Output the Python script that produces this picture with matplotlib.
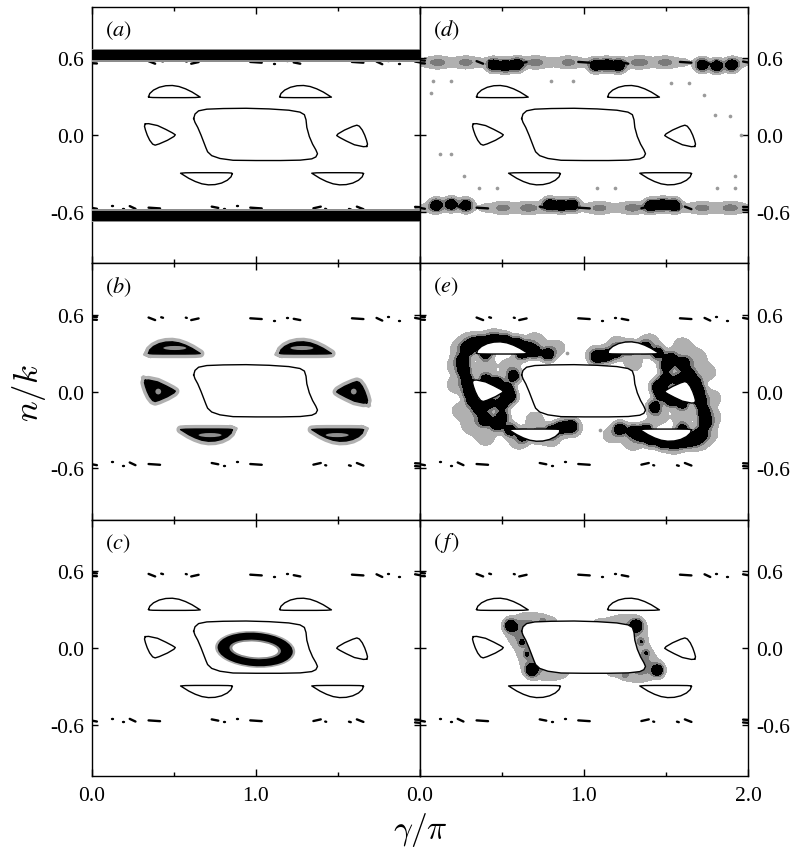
import numpy as np
import matplotlib.pyplot as plt
from matplotlib.patches import Ellipse

plt.rcParams['font.family'] = ['Liberation Serif', 'DejaVu Serif']
plt.rcParams['mathtext.fontset'] = 'cm'

# ---- data (x = gamma/pi, y = n/k) ----
# central regular island
centre_x = [0.62, 0.628, 0.65, 0.70, 0.80, 0.94, 1.08, 1.20, 1.268, 1.295, 1.305, 1.31,
            1.325, 1.345, 1.365, 1.375, 1.365, 1.34, 1.27, 1.15, 1.00, 0.86, 0.78, 0.73,
            0.705, 0.695, 0.68, 0.665, 0.645, 0.628, 0.62]
centre_y = [0.13, 0.165, 0.19, 0.203, 0.208, 0.21, 0.205, 0.195, 0.18, 0.16, 0.12, 0.06,
            -0.01, -0.07, -0.115, -0.145, -0.17, -0.185, -0.195, -0.198, -0.198, -0.196,
            -0.182, -0.16, -0.13, -0.10, -0.05, 0.0, 0.06, 0.10, 0.13]

# left triangular island (the right one is its point reflection about (1, 0))
tri_x = [0.325, 0.345, 0.40, 0.45, 0.49, 0.508, 0.50, 0.46, 0.41, 0.385, 0.37, 0.352,
         0.337, 0.326, 0.32, 0.325]
tri_y = [0.088, 0.09, 0.075, 0.045, 0.018, 0.003, -0.01, -0.04, -0.068, -0.078, -0.07,
         -0.04, 0.0, 0.04, 0.07, 0.088]

# upper crescents (the lower ones are point reflections)
cres_y = [0.300, 0.325, 0.352, 0.374, 0.386, 0.388, 0.380, 0.362, 0.337, 0.313, 0.297,
          0.294, 0.293, 0.293, 0.293, 0.294, 0.296, 0.300]
cres1_x = [0.345, 0.352, 0.375, 0.41, 0.45, 0.49, 0.53, 0.57, 0.61, 0.64, 0.66, 0.63,
           0.57, 0.50, 0.43, 0.37, 0.35, 0.345]
cres2_x = [1.145, 1.152, 1.175, 1.21, 1.25, 1.29, 1.33, 1.37, 1.41, 1.44, 1.46, 1.43,
           1.37, 1.30, 1.23, 1.17, 1.15, 1.145]

# separatrix fragments near n/k = +0.57 (lower row is the point reflection)
dash_x0 = [0.000, 0.000, 0.345, 0.422, 0.497, 0.572, 0.605, 0.965, 1.112, 1.187, 1.230,
           1.585, 1.735, 1.802, 1.872, 1.970]
dash_x1 = [0.030, 0.030, 0.385, 0.433, 0.503, 0.578, 0.650, 1.035, 1.118, 1.193, 1.270,
           1.655, 1.770, 1.808, 1.878, 2.000]
dash_y0 = [0.585, 0.562, 0.578, 0.580, 0.553, 0.577, 0.558, 0.572, 0.553, 0.578, 0.568,
           0.572, 0.575, 0.580, 0.553, 0.575]
dash_y1 = [0.582, 0.560, 0.558, 0.576, 0.553, 0.575, 0.571, 0.566, 0.553, 0.578, 0.558,
           0.566, 0.554, 0.580, 0.553, 0.568]

# (a) bands
a_band_y = [0.625, -0.63]
a_band_core = 0.038
a_band_halo = 0.05

# (b) grey cores of the filled islands (upper / left ones; rest reflected)
b_core_x = [0.505, 1.28, 0.404]
b_core_y = [0.34, 0.34, 0.0]
b_core_w = [0.14, 0.14, 0.035]
b_core_h = [0.032, 0.032, 0.045]

# (c) ring
c_ring_xy = (0.995, -0.012)
c_ring_w = [0.49, 0.46, 0.315, 0.28]
c_ring_h = [0.285, 0.26, 0.15, 0.122]
c_ring_col = ['#a8a8a8', '#000000', '#8a8a8a', '#ffffff']
c_ring_angle = -6

# (d) blobs along the upper separatrix (lower row reflected)
d_black_x = [0.45, 0.52, 0.59, 1.07, 1.14, 1.21, 1.72, 1.81, 1.90]
d_black_y = [0.548, 0.542, 0.55, 0.545, 0.55, 0.542, 0.548, 0.54, 0.548]
d_grey_x = [0.11, 0.28, 0.71, 0.90, 1.34, 1.50]
d_grey_y = [0.568, 0.568, 0.568, 0.568, 0.568, 0.568]
d_fill_x = [0.03, 0.195, 0.37, 0.64, 0.80, 0.98, 1.27, 1.42, 1.60, 1.97]
d_fill_y = [0.568, 0.568, 0.568, 0.568, 0.568, 0.568, 0.568, 0.568, 0.568, 0.568]
d_dot_x = [0.08, 0.19, 0.07, 0.80, 0.93, 1.53, 1.64, 1.73, 1.80, 1.89, 1.96, 0.12, 0.19,
           0.27, 0.36, 0.47, 1.08, 1.19, 1.81, 1.92, 1.92]
d_dot_y = [0.42, 0.42, 0.33, 0.42, 0.42, 0.41, 0.41, 0.31, 0.16, 0.15, 0.0, -0.15, -0.15,
           -0.32, -0.41, -0.41, -0.41, -0.41, -0.41, -0.41, -0.32]

# (e) chaotic cloud around the left islands (right cloud reflected)
e_black_x = [0.29, 0.33, 0.38, 0.45, 0.52, 0.59, 0.65, 0.70, 0.78, 0.40, 0.62,
             0.26, 0.27, 0.29, 0.30, 0.32, 0.36,
             0.40, 0.47, 0.53, 0.55, 0.50, 0.42, 0.57,
             0.40, 0.47, 0.55, 0.63, 0.72, 0.80, 0.86, 0.92, 0.50]
e_black_y = [0.33, 0.37, 0.39, 0.40, 0.40, 0.38, 0.34, 0.31, 0.29, 0.30, 0.30,
             0.24, 0.16, 0.08, 0.00, -0.07, -0.13,
             0.09, 0.07, 0.02, -0.04, -0.10, -0.09, 0.12,
             -0.22, -0.26, -0.30, -0.34, -0.34, -0.31, -0.28, -0.27, -0.20]
e_grey_x = [0.24, 0.22, 0.25, 0.31, 0.40, 0.60, 0.80, 0.93, 0.83, 0.70, 0.45, 0.30, 0.40,
            0.55, 0.50, 0.38, 0.70, 0.22]
e_grey_y = [0.33, 0.05, -0.15, -0.27, -0.36, -0.39, -0.37, -0.29, 0.34, 0.40, 0.42, 0.40,
            0.20, 0.20, -0.02, -0.20, -0.22, 0.20]
e_dot_x = [0.895, 1.10]
e_dot_y = [0.30, -0.30]

# (f) blobs around the central island (rest reflected)
f_black_x = [0.55, 1.32]
f_black_y = [0.175, 0.175]
f_dark_x = [0.75, 0.62, 0.65]
f_dark_y = [0.21, 0.04, -0.05]

labels = ['a', 'b', 'c', 'd', 'e', 'f']


def flip(x, y):
    # point symmetry of the map about (gamma/pi, n/k) = (1, 0)
    return list(2 - np.asarray(x)), list(-np.asarray(y))


crescents = [(cres1_x, cres_y), (cres2_x, cres_y), flip(cres1_x, cres_y), flip(cres2_x, cres_y)]
triangles = [(tri_x, tri_y), flip(tri_x, tri_y)]
small_islands = triangles + crescents

GX, GY = np.meshgrid(np.linspace(0, 2, 601), np.linspace(-1, 1, 481))


def density(sets):
    Z = np.zeros_like(GX)
    for xs, ys, amp, sx, sy in sets:
        for x0, y0 in zip(xs, ys):
            Z += amp * np.exp(-0.5 * (((GX - x0) / sx) ** 2 + ((GY - y0) / sy) ** 2))
    return Z


def shade(ax, Z):
    ax.contourf(GX, GY, Z, levels=[0.3, 0.85, 1.4, 1e4],
                colors=['#b0b0b0', '#7a7a7a', '#000000'], zorder=1)


def both(xs, ys):
    fx, fy = flip(xs, ys)
    return list(xs) + fx, list(ys) + fy


def outline(ax, x, y, face=None, halo=None):
    if halo:
        ax.plot(x, y, color=halo, lw=6, zorder=2.5, solid_joinstyle='round')
    if face:
        ax.fill(x, y, color=face, lw=0, zorder=3)
    ax.plot(x, y, color='k', lw=1.0, zorder=3.2)


def separatrix(ax):
    lx0, ly0 = flip(dash_x0, dash_y0)
    lx1, ly1 = flip(dash_x1, dash_y1)
    for xs0, xs1, ys0, ys1 in [(dash_x0, dash_x1, dash_y0, dash_y1), (lx0, lx1, ly0, ly1)]:
        for a, b, c, d in zip(xs0, xs1, ys0, ys1):
            ax.plot([a, b], [c, d], color='k', lw=1.7, solid_capstyle='round', zorder=4)


fig = plt.figure(figsize=(7.93, 8.54), dpi=100)
col_x = [92 / 793, 420 / 793]
row_y = [0.6906, 0.3904, 0.0902]
w, h = 328 / 793, 0.2999

axes = {}
for i, lab in enumerate(labels):
    col, row = divmod(i, 3)
    ax = fig.add_axes([col_x[col], row_y[row], w, h])
    axes[lab] = ax
    ax.set_xlim(0, 2)
    ax.set_ylim(-1, 1)
    ax.set_xticks([0, 1, 2])
    ax.set_xticks([0.5, 1.5], minor=True)
    ax.set_yticks([-0.6, 0.0, 0.6])
    ax.set_yticklabels(['-0.6', '0.0', '0.6'])
    ax.tick_params(which='both', direction='in', top=True, bottom=True, left=True,
                   right=True, labelsize=15.5, width=1)
    ax.tick_params(which='major', length=5)
    ax.tick_params(which='minor', length=3)
    ax.tick_params(axis='y', length=4.5, pad=6)
    ax.tick_params(axis='x', pad=7)
    ax.tick_params(labelleft=(col == 0), labelright=(col == 1), labelbottom=(row == 2))
    if row == 2:
        ax.set_xticklabels(['0.0', '1.0', '' if col == 0 else '2.0'])
    for s in ax.spines.values():
        s.set_linewidth(1.0)
    ax.text(0.04, 0.912, r'$(\mathit{%s})$' % lab if lab != 'f' else r'$(\,\mathit{f}\,)$',
            transform=ax.transAxes, fontsize=16, math_fontfamily='stix', va='center',
            ha='left', zorder=6)
    separatrix(ax)

# (a) islands and the two dark bands
ax = axes['a']
outline(ax, centre_x, centre_y)
for x, y in small_islands:
    outline(ax, x, y)
for yc in a_band_y:
    ax.axhspan(yc - a_band_halo, yc + a_band_halo, color='#8c8c8c', lw=0, zorder=4.5)
    ax.axhspan(yc - a_band_core, yc + a_band_core, color='k', lw=0, zorder=4.6)

# (b) islands filled
ax = axes['b']
outline(ax, centre_x, centre_y)
for x, y in small_islands:
    outline(ax, x, y, face='k', halo='#b0b0b0')
cx, cy = both(b_core_x, b_core_y)
for x0, y0, cw, ch in zip(cx, cy, b_core_w * 2, b_core_h * 2):
    ax.add_patch(Ellipse((x0, y0), cw, ch, color='#8f8f8f', lw=0, zorder=3.5))

# (c) ring inside the central island
ax = axes['c']
outline(ax, centre_x, centre_y)
for x, y in small_islands:
    outline(ax, x, y)
for rw, rh, rc in zip(c_ring_w, c_ring_h, c_ring_col):
    ax.add_patch(Ellipse(c_ring_xy, rw, rh, angle=c_ring_angle, color=rc, lw=0, zorder=2))

# (d) blobs along the separatrix
ax = axes['d']
shade(ax, density([both(d_black_x, d_black_y) + (2.6, 0.027, 0.033),
                   both(d_grey_x, d_grey_y) + (0.95, 0.04, 0.032),
                   both(d_fill_x, d_fill_y) + (0.45, 0.045, 0.032)]))
ax.scatter(d_dot_x, d_dot_y, s=7, color='#9a9a9a', lw=0, zorder=2)
outline(ax, centre_x, centre_y)
for x, y in small_islands:
    outline(ax, x, y)

# (e) chaotic clouds around the island chain
ax = axes['e']
shade(ax, density([both(e_black_x, e_black_y) + (2.3, 0.027, 0.034),
                   both(e_grey_x, e_grey_y) + (0.6, 0.045, 0.05)]))
ax.scatter(e_dot_x, e_dot_y, s=7, color='#9a9a9a', lw=0, zorder=2)
outline(ax, centre_x, centre_y, face='w')
for x, y in small_islands:
    outline(ax, x, y, face='w')

# (f) halo around the central island
ax = axes['f']
shade(ax, density([(centre_x, centre_y, 0.26, 0.06, 0.065),
                   both(f_black_x, f_black_y) + (2.4, 0.024, 0.032),
                   both(f_dark_x, f_dark_y) + (0.9, 0.013, 0.018)]))
outline(ax, centre_x, centre_y, face='w')
for x, y in small_islands:
    outline(ax, x, y)

fig.text(0.037, 0.54, r'$n/k$', rotation=90, fontsize=25, ha='center', va='center')
fig.text(0.53, 0.028, r'$\gamma/\pi$', fontsize=24, ha='center', va='center')

fig.savefig('out.png', dpi=100)
